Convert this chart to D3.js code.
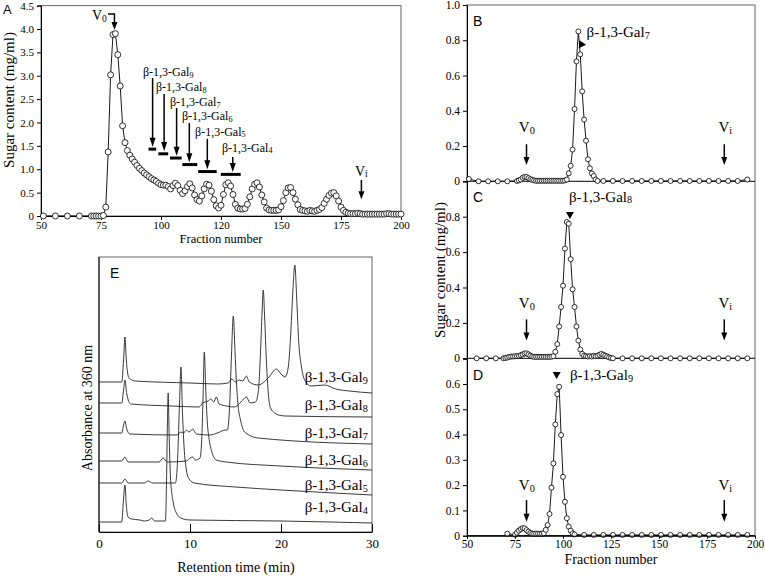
<!DOCTYPE html>
<html><head><meta charset="utf-8">
<script src="https://cdn.jsdelivr.net/npm/d3@7/dist/d3.min.js"></script>
<style>body{margin:0;background:#fff}</style>
</head><body>
<svg id="c" width="765" height="577"></svg>
<script>
// ---------- Panel A : gel filtration of the hydrolysate ----------
const fracA = [51,56,61,66,71,72,73,74,75,
  76,77,78,79,80,81,82,83,84,85,
  86,87,88,89,90,91,92,93,94,95,
  96,97,98,99,100,101,102,103,104,105,
  106,107,108,109,110,111,112,113,114,115,
  116,117,118,119,120,121,122,123,124,125,
  126,127,128,129,130,131,132,133,134,135,
  136,137,138,139,140,141,142,143,144,145,
  146,147,148,149,150,151,152,153,154,155,
  156,157,158,159,160,161,162,163,164,165,
  166,167,168,169,170,171,172,173,174,175,
  176,177,178,179,180,181,182,183,184,185,
  186,187,188,189,190,191,192,193,194,195,
  196,197,198,199,200];
const sugarA = [0,0,0,0,0,0,0,0,0,
  0.01,0.19,1.37,3.02,3.88,3.90,3.45,2.78,1.93,1.57,
  1.40,1.30,1.22,1.15,1.08,1.02,0.97,0.92,0.88,0.84,
  0.80,0.77,0.74,0.70,0.67,0.66,0.66,0.63,0.58,0.65,
  0.70,0.65,0.55,0.48,0.54,0.63,0.69,0.60,0.45,0.35,
  0.32,0.43,0.58,0.68,0.66,0.53,0.35,0.22,0.17,0.23,
  0.46,0.67,0.71,0.64,0.46,0.25,0.17,0.15,0.15,0.16,
  0.25,0.41,0.58,0.68,0.71,0.62,0.45,0.30,0.17,0.13,
  0.12,0.12,0.12,0.13,0.20,0.33,0.50,0.60,0.61,0.50,
  0.36,0.24,0.14,0.12,0.11,0.10,0.12,0.11,0.10,0.12,
  0.14,0.18,0.27,0.36,0.44,0.49,0.50,0.43,0.32,0.19,
  0.12,0.08,0.06,0.05,0.05,0.05,0.06,0.05,0.04,0.04,
  0.04,0.04,0.04,0.04,0.04,0.04,0.04,0.04,0.05,0.05,
  0.04,0.04,0.04,0.04,0.04];
const xTicksA = [50,75,100,125,150,175,200];
const xTickLabelsA = ["50","75","100","120","150","175","200"];
const yTicksA = [0,0.5,1,1.5,2,2.5,3,3.5,4,4.5];
// DP annotations of panel A
const galDP = ["9","8","7","6","5","4"];
const galTextFracA = [92.5,97.9,103.75,108.75,114.2,125.4];
const galTextValA = [2.99,2.67,2.35,2.05,1.71,1.37];
const galArrowFracA = [96.5,101.3,106.5,111.8,119.3,129.9];
const galArrowTopA = [2.95,2.61,2.31,1.99,1.65,1.26];
const galArrowTipA = [1.48,1.39,1.29,1.15,1.00,0.94];
const galBarFromA = [94.8,98.9,103.75,108.9,115.5,124.9];
const galBarToA = [98.0,103.0,108.6,115.1,123.2,133.2];
const galBarValA = [1.43,1.33,1.24,1.10,0.95,0.89];

// ---------- Panels B, C, D : re-chromatography ----------
const fracB = [51,56,61,66,71,
  76,77,78,79,80,81,82,83,84,85,
  86,87,88,89,90,91,92,93,94,95,
  96,97,98,99,100,101,102,103,104,105,
  106,107,108,109,110,111,112,113,114,115,
  116,117,118,
  121,126,131,136,141,146,151,156,161,166,171,176,181,186,191,196];
const sugarB = [0.013,0,0,0,0,
  0.002,0.005,0.01,0.02,0.025,0.024,0.018,0.012,0.008,0.005,
  0.003,0.003,0.003,0.003,0.003,0.003,0.003,0.003,0.003,0.003,
  0.003,0.003,0.003,0.003,0.003,0.005,0.01,0.045,0.088,0.18,
  0.41,0.68,0.85,0.72,0.51,0.35,0.23,0.125,0.074,0.045,
  0.03,0.01,0.002,
  0.002,0.002,0.002,0.002,0.002,0.002,0.002,0.002,0.002,0.002,0.002,0.002,0.002,0.002,0.002,0.01];
const fracC = [55,60,65,
  69,70,71,72,73,74,75,76,77,78,
  79,80,81,82,83,84,85,86,87,88,
  89,90,91,92,93,94,95,96,97,98,
  99,100,101,102,103,104,105,106,107,108,
  109,110,111,112,113,114,115,116,117,118,
  119,120,121,122,123,124,125,126,
  131,136,141,146,151,156,161,166,171,176,181,186,191,196];
const sugarC = [0,0,0,
  0,0.002,0.004,0.008,0.01,0.01,0.011,0.012,0.014,0.018,
  0.022,0.027,0.028,0.022,0.015,0.01,0.008,0.008,0.008,0.008,
  0.008,0.008,0.008,0.008,0.008,0.009,0.012,0.037,0.08,0.18,
  0.29,0.41,0.62,0.77,0.76,0.56,0.39,0.29,0.18,0.10,
  0.05,0.025,0.015,0.012,0.01,0.012,0.01,0.013,0.012,0.015,
  0.02,0.025,0.02,0.015,0.01,0.005,0.002,0,
  0,0,0,0,0,0,0,0,0,0,0,0,0,0];
const fracD = [71,
  75,76,77,78,79,80,81,82,83,84,
  85,86,87,88,89,90,91,92,93,94,
  95,96,97,98,99,100,101,102,103,104,
  105,106,
  111,116,121,126,131,136,141,146,151,156,161,166,171,176,181,186,191,196];
const sugarD = [0.008,
  0.004,0.012,0.02,0.026,0.03,0.029,0.022,0.016,0.011,0.008,
  0.008,0.008,0.008,0.008,0.008,0.01,0.023,0.042,0.086,0.19,
  0.286,0.44,0.56,0.589,0.398,0.233,0.134,0.069,0.036,0.02,
  0.009,0.005,
  0.003,0.003,0.003,0.003,0.003,0.003,0.003,0.003,0.003,0.003,0.003,0.003,0.003,0.003,0.003,0.003,0.003,0.003];
const xTicksBD = [50,75,100,125,150,175,200];
const yTicksB = [0,0.2,0.4,0.6,0.8,1.0];
const yTicksC = [0,0.2,0.4,0.6,0.8];
const yTicksD = [0,0.1,0.2,0.3,0.4,0.5,0.6];
const peakDP_BCD = ["7","8","9"];

// ---------- Panel E : HPLC chromatograms (arbitrary absorbance units) ----------
const tGal4 = [0,2.5,2.65,2.85,3.0,3.2,3.6,4.5,5.0,5.5,5.8,6.1,7.3,7.42,7.52,7.6,7.7,7.85,8.17,8.5,9,10,20,30];
const aGal4 = [10,10,27,47,27,15,13,12,11,12,14,11,11,50,110,139,100,55,29,19,14,12,11,9];
const tGal5 = [0,2.5,2.85,3.2,5.0,5.4,5.9,8.4,8.65,8.85,9.01,9.15,9.35,9.6,9.9,10.5,15,20,30];
const aGal5 = [49,49,53,49,49,51,49,49,75,130,165,125,85,62,53,49,45,42,37];
const tGal6 = [0,2.5,2.85,3.2,6.6,7.05,7.5,9.6,10.0,10.3,10.6,11.1,11.3,11.45,11.57,11.72,11.9,12.1,12.4,12.9,14,20,30];
const aGal6 = [71,71,75,70,70,74,70,71,74,75,72,74,95,140,180,145,110,93,80,72,70,66,62];
const tGal7 = [0,2.5,2.7,2.85,3.05,3.4,8.5,9.0,9.3,9.6,9.9,10.3,10.7,12.2,13.0,13.9,14.1,14.35,14.55,14.76,14.95,15.1,15.3,15.55,16.0,17.5,30];
const aGal7 = [99,99,107,111,103,98,97,100,99,102,100,103,98,97,99,102,102,125,175,216,180,150,125,112,100,94,88];
const tGal8 = [0,2.5,2.7,2.85,3.05,3.5,8,11,11.4,12.0,12.3,12.6,12.9,13.2,14.0,14.9,15.6,16.2,16.6,17.2,17.5,17.75,17.92,18.05,18.2,18.4,18.6,18.85,19.3,19.7,20.5,30];
const aGal8 = [129,129,142,152,138,128,126,125,129,131,133,130,135,128,126,125,130,135,129,130,140,180,220,242,215,170,139,124,119,117,116,115];
const tGal9 = [0,2.5,2.7,2.85,3.0,3.3,4,10,13,14.2,14.6,15.0,15.4,15.8,16.2,16.5,17.5,18.6,19.5,20.0,20.45,20.8,21.05,21.3,21.52,21.72,21.95,22.25,22.6,23.3,24.8,26,27.5,30];
const aGal9 = [150,150,172,195,172,154,151,149,148,149,153,150,152,151,156,150,147,154,163,158,155,165,195,240,267,235,190,165,152,146,147,143,141,139];
const eLabelDP = ["9","8","7","6","5","4"];
const eLabelT = [22.6,22.6,22.6,22.6,22.6,22.6];
const eLabelA = [150,122,94,67,42,20];
const xTicksE = [0,10,20,30];

// ====================================================================
const svg = d3.select("#c");
const serif = "'Liberation Serif','Times New Roman',serif";
const sans = "'Liberation Sans',Arial,sans-serif";
const frameCol = "#666";

function styleAxis(g, size){
  g.selectAll("text").attr("font-family", serif).attr("font-size", size).attr("fill","#000");
  g.selectAll("path,line").attr("stroke","#000").attr("stroke-width",1);
}
function fmt(d){ return d===0 ? "0" : d3.format(".1f")(d); }
function subLabel(g, x, y, main, sub, size, anchor){
  const t = g.append("text").attr("x",x).attr("y",y).attr("font-family",serif)
    .attr("font-size",size).attr("fill","#000").attr("text-anchor",anchor||"start");
  t.append("tspan").text(main);
  t.append("tspan").attr("font-size",size*0.68).attr("dy",size*0.12).text(sub);
  return t;
}
function arrowDown(g, x, y1, y2, w, hl, sw){
  g.append("line").attr("x1",x).attr("x2",x).attr("y1",y1).attr("y2",y2-hl+1)
    .attr("stroke","#000").attr("stroke-width",sw);
  g.append("path").attr("d",`M${x-w/2},${y2-hl}L${x+w/2},${y2-hl}L${x},${y2}Z`).attr("fill","#000");
}

// ---------------- Panel A ----------------
{
  const x = d3.scaleLinear().domain([50,200]).range([41,401]);
  const y = d3.scaleLinear().domain([0,4.5]).range([216,5.6]);
  const g = svg.append("g");
  g.append("rect").attr("x",x(50)).attr("y",y(4.5)).attr("width",x(200)-x(50)).attr("height",y(0)-y(4.5))
    .attr("fill","none").attr("stroke",frameCol);
  const ax = g.append("g").attr("transform",`translate(0,${y(0)})`)
    .call(d3.axisBottom(x).tickValues(xTicksA).tickFormat((d,i)=>xTickLabelsA[i]).tickSize(4).tickPadding(1));
  styleAxis(ax,11);
  const ay = g.append("g").attr("transform",`translate(${x(50)},0)`)
    .call(d3.axisLeft(y).tickValues(yTicksA).tickFormat(fmt).tickSize(4).tickPadding(3));
  styleAxis(ay,11);
  const pts = fracA.map((f,i)=>[f,sugarA[i]]);
  g.append("path").attr("d",d3.line().x(d=>x(d[0])).y(d=>y(d[1]))(pts))
    .attr("fill","none").attr("stroke","#000").attr("stroke-width",0.9);
  g.selectAll("circle").data(pts).join("circle").attr("cx",d=>x(d[0])).attr("cy",d=>y(d[1]))
    .attr("r",3).attr("fill","#fff").attr("stroke","#000").attr("stroke-width",0.8);
  galDP.forEach((dp,i)=>{
    subLabel(g, x(galTextFracA[i]), y(galTextValA[i]), "β-1,3-Gal", dp, 12);
    arrowDown(g, x(galArrowFracA[i]), y(galArrowTopA[i]), y(galArrowTipA[i]), 6, 9, 1.5);
    g.append("line").attr("x1",x(galBarFromA[i])).attr("x2",x(galBarToA[i]))
      .attr("y1",y(galBarValA[i])).attr("y2",y(galBarValA[i])).attr("stroke","#000").attr("stroke-width",3);
  });
  subLabel(g, x(71.2), y(4.19), "V", "0", 14);
  g.append("path").attr("d",`M${x(77.9)},${y(4.32)}H${x(80.6)}`).attr("stroke","#000").attr("stroke-width",1.5);
  arrowDown(g, x(80.6), y(4.32)-0.7, y(3.98), 6, 8, 1.5);
  subLabel(g, x(180.8), y(0.86), "V", "i", 14);
  arrowDown(g, x(183.5), y(0.77), y(0.36), 6, 8, 1.5);
  g.append("text").attr("x",3).attr("y",14).attr("font-family",sans).attr("font-size",13).text("A");
  g.append("text").attr("transform",`translate(14,100) rotate(-90)`).attr("text-anchor","middle")
    .attr("font-family",serif).attr("font-size",15).text("Sugar content (mg/ml)");
  g.append("text").attr("x",(x(50)+x(200))/2).attr("y",243).attr("text-anchor","middle")
    .attr("font-family",serif).attr("font-size",12.5).text("Fraction number");
}

// ---------------- Panels B, C, D ----------------
{
  const x = d3.scaleLinear().domain([50,200]).range([467,755]);
  const yB = d3.scaleLinear().domain([0,1]).range([181.3,5]);
  const yC = d3.scaleLinear().domain([0,1]).range([358.3,181.3]);
  const yD = d3.scaleLinear().domain([0,0.7]).range([535.7,358.7]);
  const g = svg.append("g");
  g.append("rect").attr("x",x(50)).attr("y",yB(1)).attr("width",x(200)-x(50)).attr("height",yD(0)-yB(1))
    .attr("fill","none").attr("stroke",frameCol);
  const panels = [
    {y:yB, ticks:yTicksB, f:fracB, v:sugarB, L:"B", dp:peakDP_BCD[0], tf:112.3, tv:0.82, v0:0.28, a1:0.21, a2:0.092},
    {y:yC, ticks:yTicksC, f:fracC, v:sugarC, L:"C", dp:peakDP_BCD[1], tf:103.1, tv:0.885, v0:0.284, a1:0.22, a2:0.10},
    {y:yD, ticks:yTicksD, f:fracD, v:sugarD, L:"D", dp:peakDP_BCD[2], tf:103.6, tv:0.616, v0:0.18, a1:0.141, a2:0.055}
  ];
  panels.forEach((p,k)=>{
    const y = p.y;
    g.append("line").attr("x1",x(50)).attr("x2",x(200)).attr("y1",y(0)).attr("y2",y(0)).attr("stroke","#000");
    const ay = g.append("g").attr("transform",`translate(${x(50)},0)`)
      .call(d3.axisLeft(y).tickValues(p.ticks).tickFormat(fmt).tickSize(4).tickPadding(3));
    styleAxis(ay,11.5);
    const pts = p.f.map((f,i)=>[f,p.v[i]]);
    g.append("path").attr("d",d3.line().x(d=>x(d[0])).y(d=>y(d[1]))(pts))
      .attr("fill","none").attr("stroke","#000").attr("stroke-width",0.9);
    g.append("g").selectAll("circle").data(pts).join("circle").attr("cx",d=>x(d[0])).attr("cy",d=>y(d[1]))
      .attr("r",2.5).attr("fill","#fff").attr("stroke","#000").attr("stroke-width",0.8);
    subLabel(g, x(p.tf), y(p.tv), "β-1,3-Gal", p.dp, 15);
    subLabel(g, x(77), y(p.v0), "V", "0", 15);
    subLabel(g, x(181), y(p.v0), "V", "i", 15);
    arrowDown(g, x(81), y(p.a1), y(p.a2), 6, 8, 1.5);
    arrowDown(g, x(184), y(p.a1), y(p.a2), 6, 8, 1.5);
    g.append("text").attr("x",x(50)+6).attr("y",y(p.y.domain()[1])+21).attr("font-family",sans)
      .attr("font-size",14).text(p.L);
  });
  const head = (cx,cy,rot)=> g.append("path").attr("d","M-4,-7L4,-7L0,0Z")
    .attr("transform",`translate(${cx},${cy}) rotate(${rot})`).attr("fill","#000");
  head(x(108.2), yB(0.755), 35);
  head(x(103.6), yC(0.787), 0);
  head(x(96.7), yD(0.62), 0);
  const axb = g.append("g").attr("transform",`translate(0,${yD(0)})`)
    .call(d3.axisBottom(x).tickValues(xTicksBD).tickFormat(d3.format("d")).tickSize(3).tickPadding(1));
  styleAxis(axb,11.5);
  g.append("text").attr("transform",`translate(445,270) rotate(-90)`).attr("text-anchor","middle")
    .attr("font-family",serif).attr("font-size",15).text("Sugar content (mg/ml)");
  g.append("text").attr("x",(x(50)+x(200))/2).attr("y",564).attr("text-anchor","middle")
    .attr("font-family",serif).attr("font-size",14).text("Fraction number");
}

// ---------------- Panel E ----------------
{
  const x = d3.scaleLinear().domain([0,30]).range([99,372]);
  const y = d3.scaleLinear().domain([0,275]).range([532,257]);
  const g = svg.append("g");
  g.append("rect").attr("x",x(0)).attr("y",y(275)).attr("width",x(30)-x(0)).attr("height",y(0)-y(275))
    .attr("fill","none").attr("stroke",frameCol);
  g.append("line").attr("x1",x(0)).attr("x2",x(0)).attr("y1",y(0)).attr("y2",y(275)).attr("stroke","#000");
  const ax = g.append("g").attr("transform",`translate(0,${y(0)})`)
    .call(d3.axisBottom(x).tickValues(xTicksE).tickSizeInner(-8).tickSizeOuter(0).tickPadding(7));
  styleAxis(ax,13);
  const traces = [[tGal4,aGal4],[tGal5,aGal5],[tGal6,aGal6],[tGal7,aGal7],[tGal8,aGal8],[tGal9,aGal9]];
  const line = d3.line().x(d=>x(d[0])).y(d=>y(d[1])).curve(d3.curveMonotoneX);
  traces.forEach(([t,a])=>{
    g.append("path").attr("d",line(t.map((v,i)=>[v,a[i]])))
      .attr("fill","none").attr("stroke","#222").attr("stroke-width",0.9);
  });
  eLabelDP.forEach((dp,i)=> subLabel(g, x(eLabelT[i]), y(eLabelA[i]), "β-1,3-Gal", dp, 15));
  g.append("text").attr("x",110).attr("y",278).attr("font-family",sans).attr("font-size",14).text("E");
  g.append("text").attr("transform",`translate(92,408) rotate(-90)`).attr("text-anchor","middle")
    .attr("font-family",serif).attr("font-size",14).text("Absorbance at 360 nm");
  g.append("text").attr("x",236).attr("y",572).attr("text-anchor","middle")
    .attr("font-family",serif).attr("font-size",14).text("Retention time (min)");
}
</script>
</body></html>
